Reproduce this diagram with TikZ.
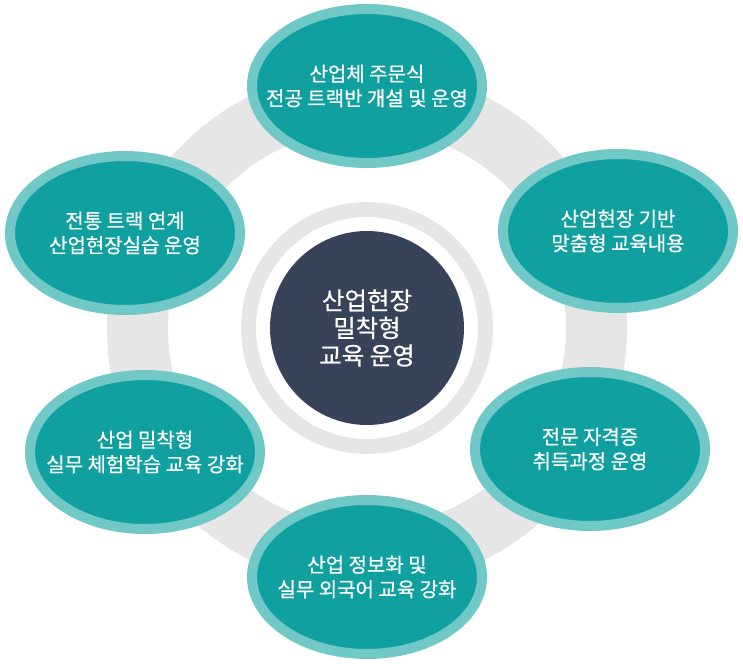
\documentclass[tikz,border=0pt]{standalone}
\usepackage{fontspec}
\setmainfont[FakeBold=0.5]{Noto Sans CJK KR}
\usetikzlibrary{shapes.geometric}
\definecolor{tealfill}{HTML}{10A09F}
\definecolor{tealedge}{HTML}{70C8C7}
\definecolor{ringgray}{HTML}{E6E6E6}
\definecolor{navy}{HTML}{364359}
\begin{document}
\begin{tikzpicture}[x=1pt,y=-1pt,
  pill/.style={ellipse, fill=tealfill, draw=tealedge, line width=10pt,
    minimum width=230pt, minimum height=154pt, inner sep=0pt},
  pilltext/.style={text=white, align=center, inner sep=0pt,
    font=\fontsize{20}{24.5}\selectfont},
  hub/.style={circle, fill=navy, minimum size=194pt, inner sep=0pt,
    text=white, align=center, font=\fontsize{24.5}{27.5}\selectfont}]
\useasboundingbox (0,0) rectangle (743,663);
\coordinate (c) at (367,328);
\draw[ringgray, line width=61pt] (c) circle[radius=229.5pt];
\draw[ringgray, line width=15pt] (c) circle[radius=118.5pt];
\node[hub] (hub) at (c) {산업현장\\밀착형\\교육 운영};
\node[pill] (e1) at (367,86) {};
\node[pilltext] (t1) at (e1.center) {산업체 주문식\\전공 트랙반 개설 및 운영};
\node[pill] (e2) at (618,231) {};
\node[pilltext] (t2) at (e2.center) {산업현장 기반\\맞춤형 교육내용};
\node[pill] (e3) at (590,449) {};
\node[pilltext] (t3) at (e3.center) {전문 자격증\\취득과정 운영};
\node[pill] (e4) at (367,577) {};
\node[pilltext] (t4) at (e4.center) {산업 정보화 및\\실무 외국어 교육 강화};
\node[pill] (e5) at (145,452) {};
\node[pilltext] (t5) at (e5.center) {산업 밀착형\\실무 체험학습 교육 강화};
\node[pill] (e6) at (125,233) {};
\node[pilltext] (t6) at (e6.center) {전통 트랙 연계\\산업현장실습 운영};
\end{tikzpicture}
\end{document}
